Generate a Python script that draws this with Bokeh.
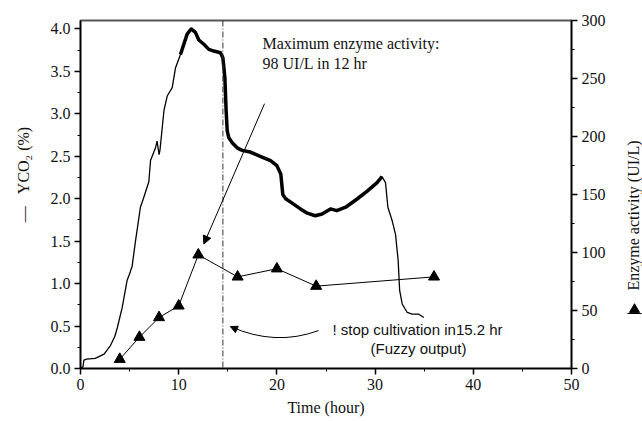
import numpy as np
from math import pi
from bokeh.plotting import figure
from bokeh.layouts import row
from bokeh.models import (Range1d, LinearAxis, FixedTicker, Span, Label, Arrow,
                          NormalHead, PrintfTickFormatter)
from bokeh.core.properties import value
from bokeh.embed import file_html
from bokeh.resources import INLINE

# ---------------- data ----------------
time_co2 = [0.0, 0.25, 0.35, 0.6, 1.5, 2.4, 3.05, 3.5, 3.75, 4.25, 4.75, 5.05, 5.15, 5.25,
            5.6, 6.1, 6.4, 6.96, 7.13, 7.64, 7.8, 8.0, 8.1, 8.5, 8.83, 9.34, 9.67, 10.18,
            10.86, 11.27, 11.7, 12.05, 12.56, 13.07, 13.58, 14.25, 14.5, 14.7, 14.83, 14.94,
            15.1, 15.45, 15.95, 16.46, 17.3, 18.3, 19.35, 20.0, 20.4, 20.6, 20.9, 21.4, 22.4,
            23.1, 23.9, 24.6, 25.46, 26.1, 27.0, 28.2, 29.2, 30.2, 30.7, 31.06, 31.3, 31.74,
            32.08, 32.35, 32.5, 32.76, 33.27, 33.78, 34.45, 34.96]
yco2 = [0.0, 0.02, 0.10, 0.11, 0.12, 0.17, 0.27, 0.38, 0.48, 0.72, 1.04, 1.13, 1.17, 1.20,
        1.50, 1.90, 2.00, 2.20, 2.45, 2.60, 2.68, 2.52, 2.58, 3.04, 3.21, 3.31, 3.54, 3.70,
        3.94, 4.00, 3.96, 3.87, 3.82, 3.76, 3.74, 3.72, 3.66, 3.43, 3.04, 2.80,
        2.72, 2.66, 2.60, 2.57, 2.55, 2.50, 2.45, 2.39, 2.29, 2.05, 2.00, 1.96, 1.88,
        1.83, 1.80, 1.82, 1.88, 1.86, 1.90, 2.00, 2.09, 2.19, 2.26, 2.19, 1.90, 1.74,
        1.58, 1.27, 0.92, 0.76, 0.66, 0.64, 0.64, 0.60]
noisy_from, noisy_to = 10.18, 30.7   # part of the trace that is drawn thick (noisy signal)

enz_time = [4, 6, 8, 10, 12, 16, 20, 24, 36]
enz_activity = [8, 27, 44, 54, 98, 79, 86, 71, 79]

stop_time = 14.5

x_ticks = [0, 10, 20, 30, 40, 50]
y_ticks = [0.0, 0.5, 1.0, 1.5, 2.0, 2.5, 3.0, 3.5, 4.0]
enz_ticks = [0, 50, 100, 150, 200, 250, 300]

# ---------------- figure ----------------
SERIF = "Liberation Serif"
SANS = "Liberation Sans"
NB = "\u00A0"
MAIN_W, H = 614, 421

p = figure(width=MAIN_W, height=H, output_backend="svg", toolbar_location=None,
           x_range=Range1d(0, 50), y_range=Range1d(0, 4.1),
           min_border_left=80, min_border_right=MAIN_W - 571, min_border_top=20,
           min_border_bottom=53)
p.grid.visible = False
p.outline_line_color = "#555555"
p.outline_line_width = 2
p.background_fill_color = "white"
p.border_fill_color = "white"

p.extra_y_ranges = {"enz": Range1d(0, 300)}
right_axis = LinearAxis(y_range_name="enz")
p.add_layout(right_axis, "right")

def minor(ticks):
    step = ticks[1] - ticks[0]
    return [t + step / 2 for t in ticks[:-1]]

p.xaxis.ticker = FixedTicker(ticks=x_ticks, minor_ticks=minor(x_ticks))
p.yaxis[0].ticker = FixedTicker(ticks=y_ticks, minor_ticks=minor(y_ticks))
p.yaxis[0].formatter = PrintfTickFormatter(format="%.1f")
right_axis.ticker = FixedTicker(ticks=enz_ticks, minor_ticks=minor(enz_ticks))

for ax in [p.xaxis[0], p.yaxis[0], right_axis]:
    ax.axis_line_color = "black"
    ax.axis_line_width = 1.5
    ax.major_tick_in = 0
    ax.major_tick_out = 6
    ax.minor_tick_in = 0
    ax.minor_tick_out = 3
    ax.major_tick_line_color = "black"
    ax.minor_tick_line_color = "black"
    ax.major_tick_line_width = 1.5
    ax.minor_tick_line_width = 1
    ax.major_label_text_font = SERIF
    ax.major_label_text_font_size = "16px"
    ax.major_label_text_color = "#111111"
    ax.major_label_standoff = 4
    ax.axis_label_text_font = SERIF
    ax.axis_label_text_font_size = "16px"
    ax.axis_label_text_font_style = "normal"
    ax.axis_label_text_color = "#111111"

p.xaxis[0].axis_label = "Time (hour)"
p.xaxis[0].axis_label_standoff = 6
p.yaxis[0].axis_label = NB * 10 + "\u2014" + NB * 3 + "YCO\u2082 (%)"
p.yaxis[0].axis_label_standoff = 16

# ---------------- marks ----------------
t_arr = np.array(time_co2)
v_arr = np.array(yco2)
mask = (t_arr >= noisy_from) & (t_arr <= noisy_to)

p.line(time_co2, yco2, line_color="black", line_width=1.3)
p.line(t_arr[mask], v_arr[mask], line_color="black", line_width=3.5, line_join="round")

p.line(enz_time, enz_activity, y_range_name="enz", line_color="black", line_width=1)
p.scatter(enz_time, enz_activity, y_range_name="enz", marker="triangle", size=11,
          fill_color="black", line_color="black")

p.add_layout(Span(location=stop_time, dimension="height", line_color="#333333",
                  line_width=1, line_dash="6 2 1 2"))

# straight arrow to max activity
p.add_layout(Arrow(end=NormalHead(size=8, fill_color="black", line_color="black"),
                   x_start=18.74, y_start=3.12, x_end=12.56, y_end=1.467,
                   line_color="black", line_width=1))

# curved arrow to stop line
p.quadratic(x0=[24.24], y0=[0.447], x1=[15.27], y1=[0.494], cx=[19.86], cy=[0.259],
            line_color="black", line_width=1)
p.add_layout(Arrow(end=NormalHead(size=7, fill_color="black", line_color="black"),
                   x_start=15.73, y_start=0.47, x_end=15.27, y_end=0.494,
                   line_color="black", line_width=1))

# ---------------- texts (screen units relative to frame) ----------------
def lab(text, x, y, font=SERIF, size="16px", align="left", angle=0.0, color="#111111"):
    p.add_layout(Label(x=x, y=y, x_units="screen", y_units="screen", text=text,
                       text_font=font, text_font_size=size, text_align=align,
                       text_baseline="middle", angle=angle, text_color=color))

FX, FY = 80, 368  # page position of frame bottom-left
lab("Maximum enzyme activity:", 262 - FX, FY - 43)
lab("98 UI/L in 12 hr", 262 - FX, FY - 63)
lab("! stop cultivation in15.2 hr", 332 - FX, FY - 329, font=SANS, size="15px")
lab("(Fuzzy output)", 418 - FX, FY - 348, font=SANS, size="15px", align="center")

# ---------------- right-hand axis title strip (pixel coordinates) ----------------
SW = 642 - MAIN_W
s = figure(frame_width=SW, frame_height=H, output_backend="svg", toolbar_location=None,
           x_range=Range1d(0, SW), y_range=Range1d(0, H),
           min_border_left=0, min_border_right=0, min_border_top=0, min_border_bottom=0,
           x_axis_location=None, y_axis_location=None)
s.grid.visible = False
s.outline_line_color = None
s.background_fill_color = "white"
s.border_fill_color = "white"
s.text(x=[633 - MAIN_W], y=[H - 195], text=["Enzyme activity (UI/L)"], angle=pi / 2,
       text_font=value(SERIF), text_font_size="16px", text_color="#111111",
       text_align="center", text_baseline="middle")
s.segment(x0=[627 - MAIN_W], y0=[H - 293], x1=[641 - MAIN_W], y1=[H - 293],
          line_color="black", line_width=1)
s.scatter(x=[634 - MAIN_W], y=[H - 289], marker="triangle", size=10,
          fill_color="black", line_color="black")

layout = row(p, s, spacing=0)
open("out.html", "w").write(file_html(layout, INLINE))
